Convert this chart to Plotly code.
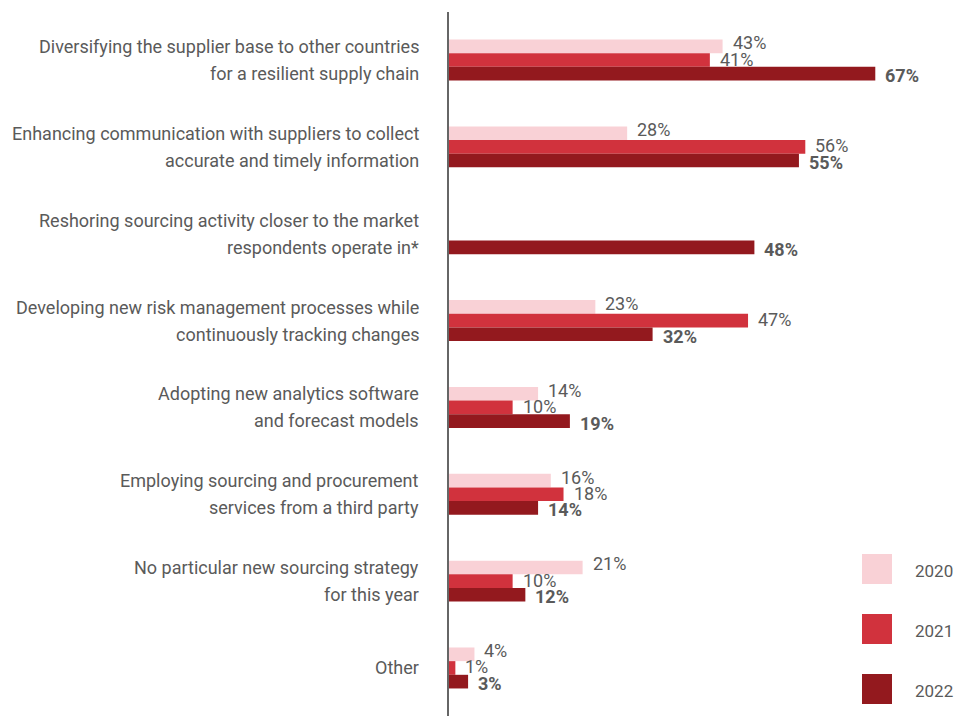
import plotly.graph_objects as go

# Survey answers (share of respondents, %)
categories = [
    "Diversifying the supplier base to other countries<br>for a resilient supply chain",
    "Enhancing communication with suppliers to collect<br>accurate and timely information",
    "Reshoring sourcing activity closer to the market<br>respondents operate in*",
    "Developing new risk management processes while <br>continuously tracking changes",
    "Adopting new analytics software<br>and forecast models",
    "Employing sourcing and procurement<br>services from a third party",
    "No particular new sourcing strategy<br>for this year",
    "Other",
]
years = ["2020", "2021", "2022"]
values_2020 = [43, 28, None, 23, 14, 16, 21, 4]
values_2021 = [41, 56, None, 47, 10, 18, 10, 1]
values_2022 = [67, 55, 48, 32, 19, 14, 12, 3]

series = [values_2020, values_2021, values_2022]
colors = ["#F9D1D6", "#D1323D", "#93191E"]
text_color = "#5A5A5A"
font_family = "Roboto, 'Open Sans', sans-serif"

bargap = 0.528
slot = (1 - bargap) / 3
positions = list(range(len(categories)))

fig = go.Figure()
for year, vals, col in zip(years, series, colors):
    fig.add_trace(go.Bar(
        y=positions, x=vals, orientation="h", name=year,
        marker=dict(color=col, line=dict(width=0)),
        showlegend=False, hoverinfo="skip",
    ))

annotations = []
# value labels next to each bar
label_yshift = [3.5, 1, -2]
for j, (vals, year) in enumerate(zip(series, years)):
    for i, v in enumerate(vals):
        if v is None:
            continue
        annotations.append(dict(
            x=v, y=i + (j - 1) * slot, xref="x", yref="y",
            text=f"{v}%", showarrow=False, xanchor="left", yanchor="middle",
            xshift=8, yshift=label_yshift[j],
            font=dict(family=font_family, size=18, color=text_color,
                      weight="bold" if year == "2022" else "normal"),
        ))

# category labels, one annotation per line
line_step = 27
for i, cat in enumerate(categories):
    lines = cat.split("<br>")
    n = len(lines)
    for k, line in enumerate(lines):
        offset = ((n - 1) / 2 - k) * line_step
        annotations.append(dict(
            x=0, y=i, xref="paper", yref="y", text=line.rstrip(),
            showarrow=False, xanchor="right", yanchor="middle",
            xshift=-28, yshift=offset,
            font=dict(family=font_family, size=18, color=text_color),
        ))

# legend: swatches with year labels
shapes = []
legend_top = [554, 614, 674]
H = 716
for year, col, top in zip(years, colors, legend_top):
    shapes.append(dict(
        type="rect", xref="paper", yref="paper",
        x0=(862 - 449) / (958 - 449), x1=(892 - 449) / (958 - 449),
        y0=1 - (top + 30 - 12) / (H - 12), y1=1 - (top - 12) / (H - 12),
        fillcolor=col, line=dict(width=0), layer="above",
    ))
    annotations.append(dict(
        x=(913 - 449) / (958 - 449), y=1 - (top + 17 - 12) / (H - 12),
        xref="paper", yref="paper", text=year, showarrow=False,
        xanchor="left", yanchor="middle",
        font=dict(family=font_family, size=17, color=text_color),
    ))

fig.update_layout(
    width=958, height=716,
    margin=dict(l=449, r=0, t=12, b=0),
    paper_bgcolor="white", plot_bgcolor="white",
    barmode="group", bargap=bargap, bargroupgap=0,
    xaxis=dict(range=[0, 80], showgrid=False, zeroline=False,
               showticklabels=False, showline=False),
    yaxis=dict(range=[7.553, -0.553], showgrid=False, zeroline=False,
               showticklabels=False, showline=True, linecolor="#666666",
               linewidth=1.5, mirror=False),
    annotations=annotations, shapes=shapes,
    font=dict(family=font_family, color=text_color),
)

fig.write_html("out.html")
